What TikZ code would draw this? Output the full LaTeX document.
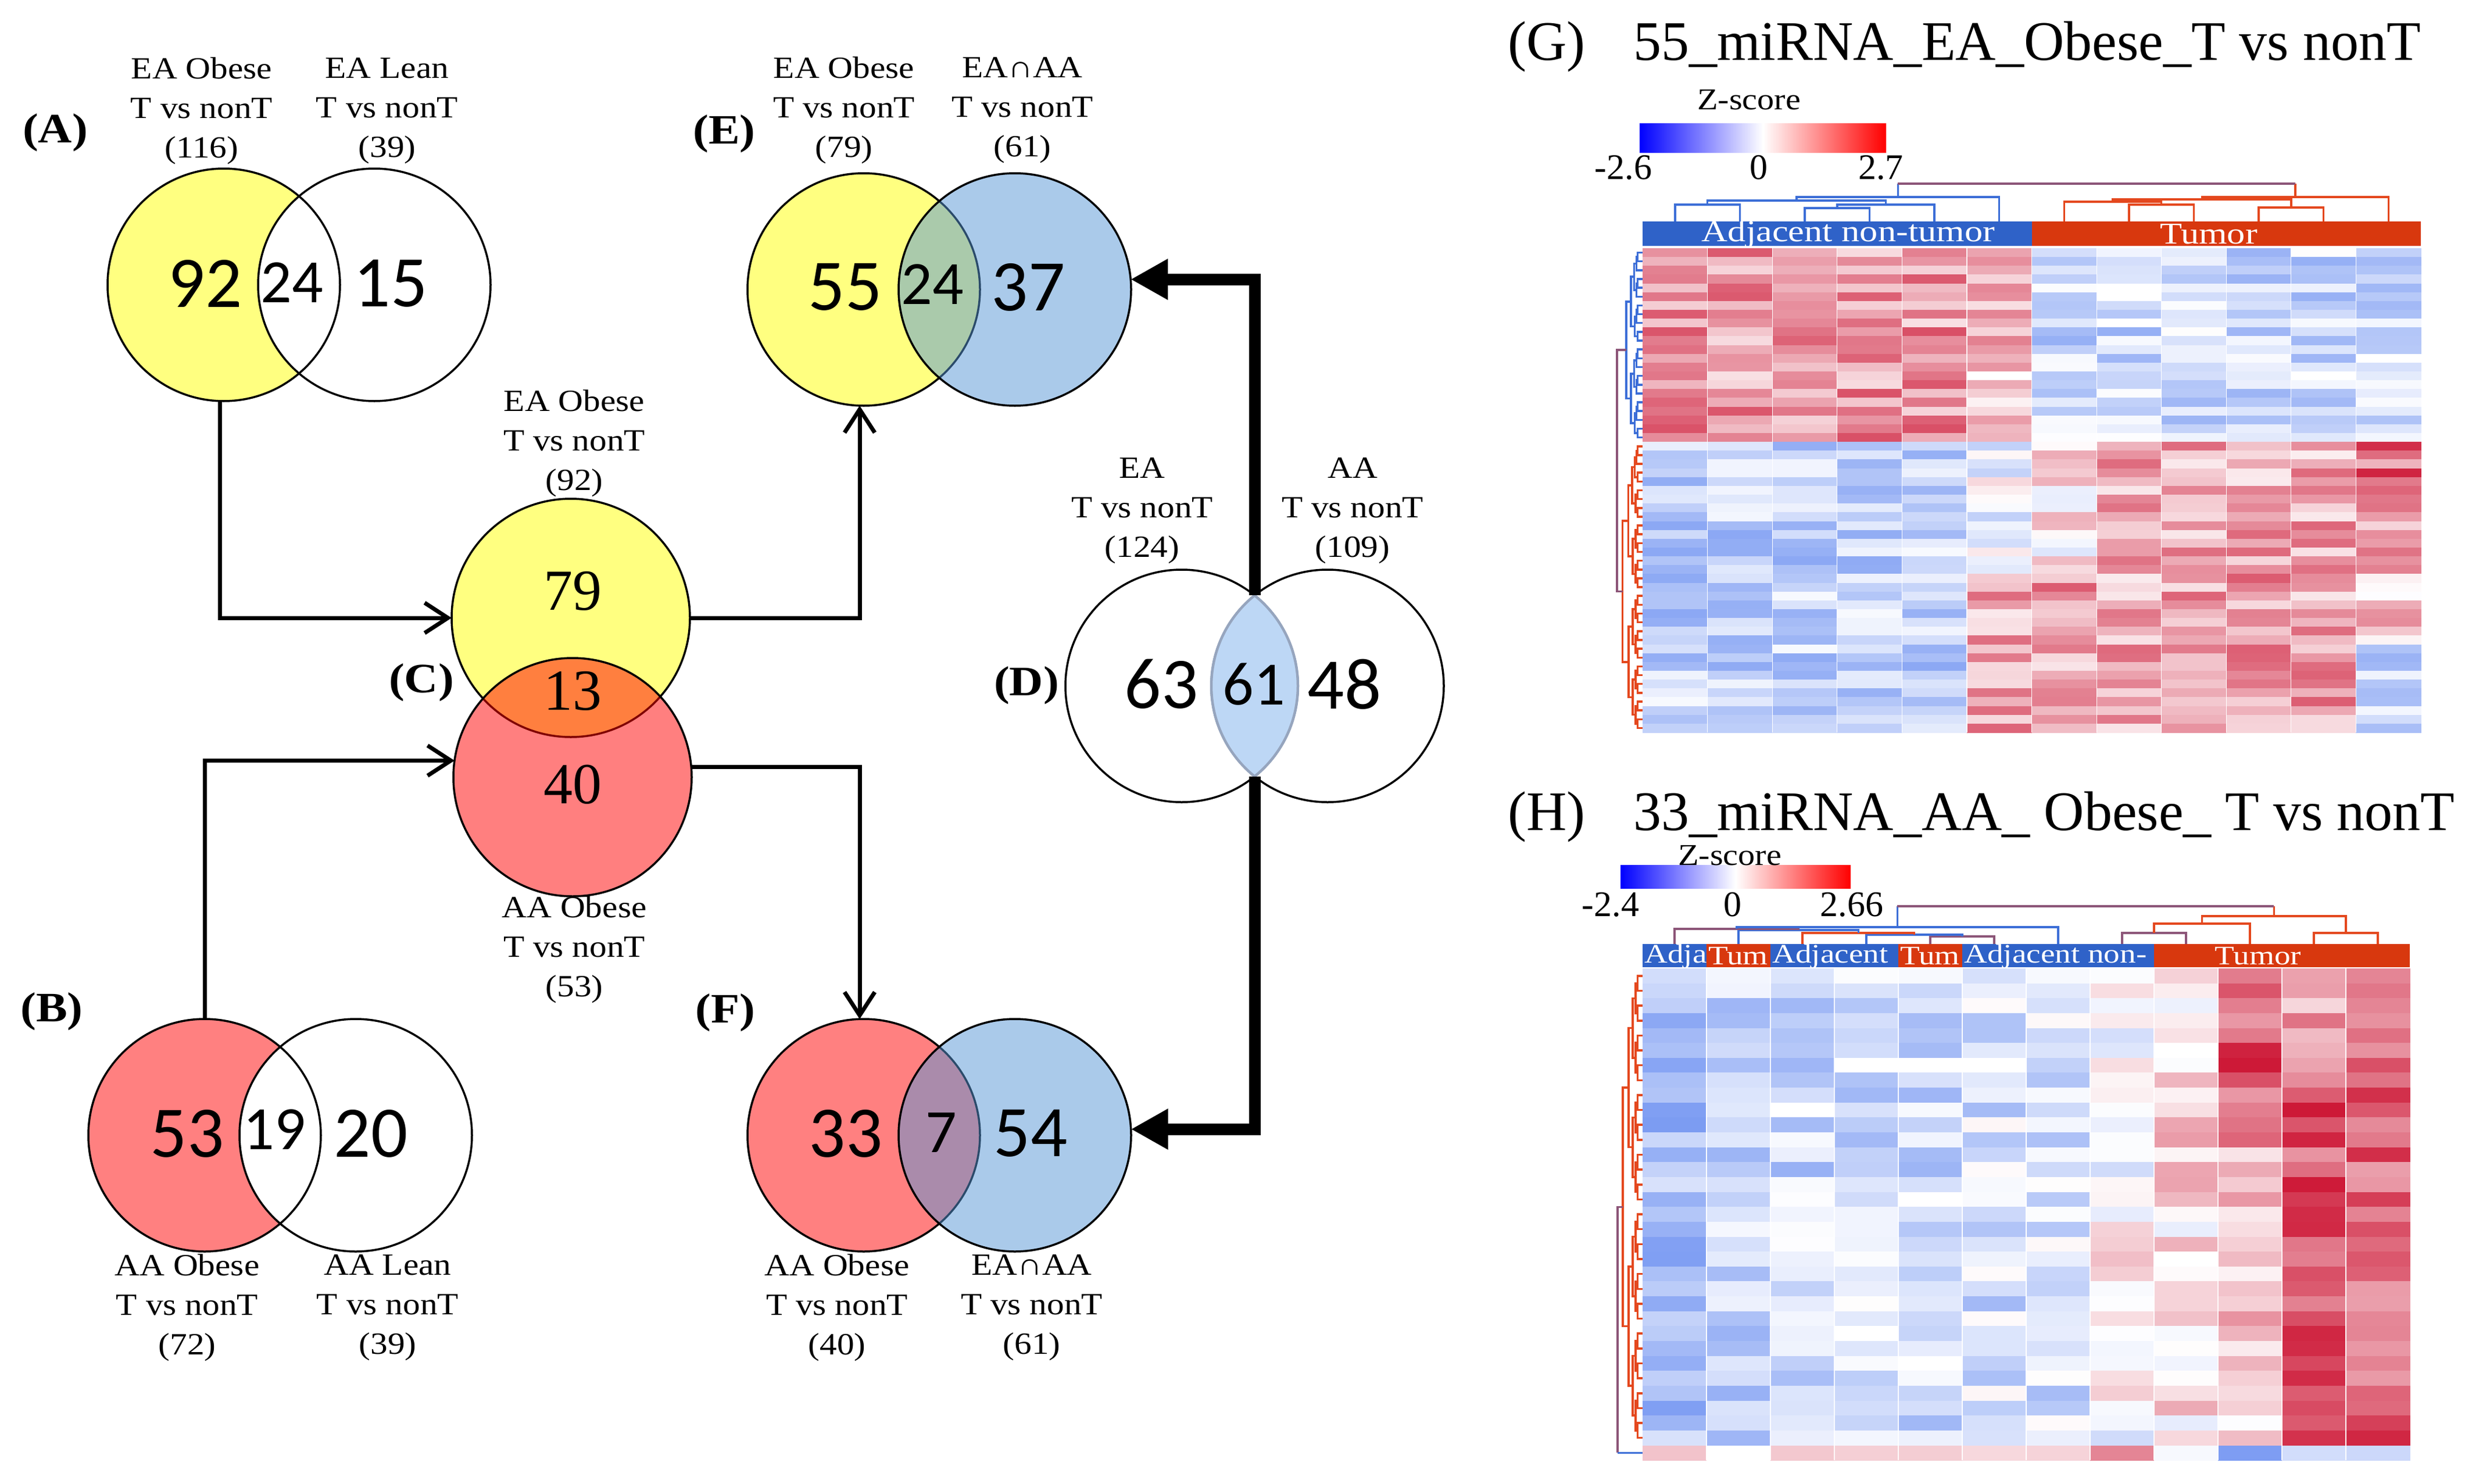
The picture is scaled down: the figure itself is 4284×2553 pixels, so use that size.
\documentclass[tikz,border=0pt]{standalone}
\usepackage{fontspec}
\setmainfont{Liberation Serif}
\newfontfamily\labfont[FakeStretch=1.12]{Liberation Serif}
\newfontfamily\hdrfont[FakeStretch=1.2]{Liberation Serif}
\newfontfamily\numfont{Carlito}
\usetikzlibrary{arrows.meta}
\definecolor{vyellow}{RGB}{255,255,128}
\definecolor{vred}{RGB}{255,128,128}
\definecolor{vblue}{RGB}{87,151,215}
\definecolor{lensblue}{RGB}{189,215,245}
\definecolor{lensedge}{RGB}{150,165,190}
\definecolor{hmblue}{RGB}{50,100,235}
\definecolor{hmred}{RGB}{205,25,55}
\definecolor{hdrblue}{RGB}{47,98,200}
\definecolor{hdrred}{RGB}{216,56,14}
\definecolor{dgblue}{RGB}{60,110,215}
\definecolor{dgred}{RGB}{228,72,30}
\definecolor{dgpurple}{RGB}{140,85,120}
\tikzset{
  vnode/.style={circle, inner sep=0pt, outer sep=0pt, minimum size=400pt},
  vnodeC/.style={vnode, minimum size=410pt},
  vline/.style={draw=black, line width=3.5pt},
  lab/.style={align=center, inner sep=0pt, font=\labfont\fontsize{53}{68}\selectfont},
  pnl/.style={inner sep=0pt, font=\labfont\bfseries\fontsize{72}{80}\selectfont},
  bignum/.style={inner sep=0pt, font=\numfont\fontsize{125}{130}\selectfont},
  midnum/.style={inner sep=0pt, font=\numfont\fontsize{106}{110}\selectfont},
  sernum/.style={inner sep=0pt, font=\fontsize{100}{110}\selectfont},
  thinarr/.style={line width=7pt, -{Straight Barb[length=40pt,width=52pt]}},
  thickarr/.style={line width=20pt, -{Triangle[length=64pt,width=66pt]}},
  ttl/.style={inner sep=0pt, font=\fontsize{96}{100}\selectfont},
  zs/.style={inner sep=0pt, font=\labfont\fontsize{52}{56}\selectfont},
  tick/.style={inner sep=0pt, font=\fontsize{62}{66}\selectfont},
  hdrG/.style={inner sep=0pt, text=white, font=\hdrfont\fontsize{52}{54}\selectfont},
  hdrH/.style={inner sep=0pt, text=white, font=\hdrfont\fontsize{46}{48}\selectfont},
  dgB/.style={draw=dgblue, line width=3.5pt},
  dgR/.style={draw=dgred, line width=3.5pt},
  dgP/.style={draw=dgpurple, line width=3.5pt},
}
% recursive row dendrogram: #1 first row, #2 last row, #3 top y, #4 row height, #5 style
\newcommand\dendro[5]{%
  \ifnum#1=#2\relax
    \pgfmathsetmacro\dgY{#3+#4*(#1+0.5)}%
    \xdef\dgRetY{\dgY}\xdef\dgRetX{\hmX}%
  \else
    \begingroup
    \pgfmathtruncatemacro\dgMid{floor((#1+#2)/2)}%
    \pgfmathtruncatemacro\dgMidp{\dgMid+1}%
    \edef\dgNext{\noexpand\dendro{#1}{\dgMid}{#3}{#4}{#5}}\dgNext
    \let\dgYa\dgRetY \let\dgXa\dgRetX
    \edef\dgNext{\noexpand\dendro{\dgMidp}{#2}{#3}{#4}{#5}}\dgNext
    \let\dgYb\dgRetY \let\dgXb\dgRetX
    \pgfmathsetmacro\dgXn{\hmX-6*sqrt(#2-#1+1)}%
    \draw[#5] (\dgXa,\dgYa) -- (\dgXn,\dgYa) -- (\dgXn,\dgYb) -- (\dgXb,\dgYb);
    \pgfmathsetmacro\dgYc{(\dgYa+\dgYb)/2}%
    \xdef\dgRetY{\dgYc}\xdef\dgRetX{\dgXn}%
    \endgroup
  \fi}
% column dendrogram link: style, x left, x right, y, y left child, y right child, y parent
\newcommand\clink[7]{%
  \draw[#1] (#2,#5) -- (#2,#4) -- (#3,#4) -- (#3,#6);
  \draw[#1] ({(#2+#3)/2},#4) -- ({(#2+#3)/2},#7);}
\begin{document}
\begin{tikzpicture}[x=1pt,y=-1pt]
\useasboundingbox (0,0) rectangle (4284,2553);
\fill[white] (0,0) rectangle (4284,2553);

% ================= A =================
\node[vnode] (aL) at (385,490) {};
\node[vnode] (aR) at (644,490) {};
\fill[vyellow] (aL.center) circle[radius=200pt];
\fill[white] (aR.center) circle[radius=200pt];
\draw[vline] (aL.center) circle[radius=200pt];
\draw[vline] (aR.center) circle[radius=200pt];
\node[bignum] (a1) at (353,488) {92};
\node[midnum] (a2) at (502,486) {24};
\node[bignum] (a3) at (672,488) {15};
\node[lab] (aLt) at (347,191) {EA Obese\\T vs nonT\\(116)};
\node[lab] (aRt) at (666,191) {EA Lean\\T vs nonT\\(39)};
\node[pnl] (pA) at (95,228) {(A)};

% ================= B =================
\node[vnode] (bL) at (352,1953) {};
\node[vnode] (bR) at (612,1953) {};
\fill[vred] (bL.center) circle[radius=200pt];
\fill[white] (bR.center) circle[radius=200pt];
\draw[vline] (bL.center) circle[radius=200pt];
\draw[vline] (bR.center) circle[radius=200pt];
\node[bignum] (b1) at (322,1950) {53};
\node[midnum] (b2) at (472,1943) {19};
\node[bignum] (b3) at (638,1950) {20};
\node[lab] (bLt) at (322,2250) {AA Obese\\T vs nonT\\(72)};
\node[lab] (bRt) at (667,2250) {AA Lean\\T vs nonT\\(39)};
\node[pnl] (pB) at (89,1740) {(B)};

% ================= C =================
\node[vnodeC] (cT) at (982,1063) {};
\node[vnodeC] (cB) at (985,1337) {};
\fill[vyellow] (cT.center) circle[radius=205pt];
\draw[vline] (cT.center) circle[radius=205pt];
\fill[red, fill opacity=0.5] (cB.center) circle[radius=205pt];
\draw[vline] (cB.center) circle[radius=205pt];
\node[sernum] (c1) at (985,1017) {79};
\node[sernum] (c2) at (985,1189) {13};
\node[sernum] (c3) at (985,1350) {40};
\node[lab] (cTt) at (988,763) {EA Obese\\T vs nonT\\(92)};
\node[lab] (cBt) at (988,1634) {AA Obese\\T vs nonT\\(53)};
\node[pnl] (pC) at (725,1174) {(C)};

% ================= D =================
\node[vnode] (dL) at (2033,1180) {};
\node[vnode] (dR) at (2284,1180) {};
\draw[vline] (dL.center) circle[radius=200pt];
\draw[vline] (dR.center) circle[radius=200pt];
\begin{scope}
  \clip (dL.center) circle[radius=200pt];
  \fill[lensblue] (dR.center) circle[radius=200pt];
  \draw[lensedge, line width=4.5pt] (dR.center) circle[radius=200pt];
\end{scope}
\begin{scope}
  \clip (dR.center) circle[radius=200pt];
  \draw[lensedge, line width=4.5pt] (dL.center) circle[radius=200pt];
\end{scope}
\coordinate (dTop) at (2158.5,1024.3);
\coordinate (dBot) at (2158.5,1335.7);
\node[bignum] (d1) at (1998,1177) {63};
\node[midnum] (d2) at (2157,1177) {61};
\node[bignum] (d3) at (2313,1177) {48};
\node[lab] (dLt) at (1965,879) {EA\\T vs nonT\\(124)};
\node[lab] (dRt) at (2327,879) {AA\\T vs nonT\\(109)};
\node[pnl] (pD) at (1766,1179) {(D)};

% ================= E =================
\node[vnode] (eL) at (1486,498) {};
\node[vnode] (eR) at (1746,498) {};
\fill[vyellow] (eL.center) circle[radius=200pt];
\draw[vline] (eL.center) circle[radius=200pt];
\fill[vblue, fill opacity=0.5] (eR.center) circle[radius=200pt];
\draw[vline] (eR.center) circle[radius=200pt];
\node[bignum] (e1) at (1454,494) {55};
\node[midnum] (e2) at (1604,489) {24};
\node[bignum] (e3) at (1769,494) {37};
\node[lab] (eLt) at (1452,190) {EA Obese\\T vs nonT\\(79)};
\node[lab] (eRt) at (1759,190) {EA∩AA\\T vs nonT\\(61)};
\node[pnl] (pE) at (1246,230) {(E)};

% ================= F =================
\node[vnode] (fL) at (1486,1953) {};
\node[vnode] (fR) at (1746,1953) {};
\fill[vred] (fL.center) circle[radius=200pt];
\draw[vline] (fL.center) circle[radius=200pt];
\fill[vblue, fill opacity=0.5] (fR.center) circle[radius=200pt];
\draw[vline] (fR.center) circle[radius=200pt];
\node[bignum] (f1) at (1455,1950) {33};
\node[midnum] (f2) at (1619,1948) {7};
\node[bignum] (f3) at (1773,1950) {54};
\node[lab] (fLt) at (1440,2250) {AA Obese\\T vs nonT\\(40)};
\node[lab] (fRt) at (1775,2250) {EA∩AA\\T vs nonT\\(61)};
\node[pnl] (pF) at (1248,1742) {(F)};

% ================= arrows =================
\draw[thinarr] (aL.-92) |- (cT.west);
\draw[thinarr] (bL.north) |- (cB.172);
\draw[thinarr] (cT.east) -| (eL.-92);
\draw[thinarr] (cB.5) -| (fL.92);
\draw[thickarr] (dTop) |- (eR.5);
\draw[thickarr] (dBot) |- (fR.3);

% ================= G heatmap =================
\node[ttl, anchor=base] (gLab) at (2661,104) {(G)};
\node[ttl, anchor=base west] (gTitle) at (2810,104) {55\_miRNA\_EA\_Obese\_T vs nonT};
\shade[left color=blue, right color=red, middle color=white] (2821,212) rectangle (3245,262);
\node[zs] (gZ) at (3009,172) {Z-score};
\node[tick, anchor=base] (gT1) at (2793,308) {-2.6};
\node[tick, anchor=base] (gT2) at (3026,308) {0};
\node[tick, anchor=base] (gT3) at (3236,308) {2.7};
\fill[hdrblue] (2826,381) rectangle (3496,423);
\fill[hdrred] (3496,381) rectangle (4165,423);
\node[hdrG] (gHa) at (3180,403) {Adjacent non-tumor};
\node[hdrG] (gHt) at (3800,403) {Tumor};
\pgfmathsetseed{2024}
\foreach \ri in {0,...,54}{
  \foreach \ci in {0,...,11}{
    \pgfmathsetmacro\hb{(\ri<22) ? ((\ci<5) ? 0.45 : ((\ci==5) ? 0.3 : -0.3)) : ((\ri<37) ? ((\ci<5) ? -0.35 : ((\ci==5) ? -0.1 : ((\ci==6) ? 0.05 : (((\ci==11) && (\ri<31)) ? 0.65 : 0.35)))) : ((\ci<5) ? -0.35 : ((\ci<11) ? 0.4 : ((\ri<45) ? 0.3 : -0.35))))}
    \pgfmathsetmacro\hv{max(-1,min(1,\hb+0.32*rand))}
    \pgfmathtruncatemacro\hpr{min(100,max(0,\hv)*100)}
    \pgfmathtruncatemacro\hpb{min(100,max(0,-\hv)*85)}
    \colorlet{hcb}{hmblue!\hpb!white}
    \fill[hmred!\hpr!hcb] ({2826+\ci*111.583},{427+\ri*15.145}) rectangle ++(112.2,15.7);
  }
}
\foreach \ci in {1,...,11}{\draw[white, line width=1.2pt] ({2826+\ci*111.583},427) -- ++(0,833);}
% column dendrogram G
\clink{dgB}{3105}{3216.6}{358}{381}{381}{352}
\clink{dgB}{3160.8}{3328.1}{352}{358}{381}{345}
\clink{dgB}{2881.8}{2993.4}{352}{381}{381}{345}
\clink{dgB}{2937.6}{3244.5}{345}{352}{352}{339}
\clink{dgB}{3091}{3439.7}{339}{345}{381}{316}
\clink{dgR}{3662.9}{3774.5}{352}{381}{381}{347}
\clink{dgR}{3551.3}{3718.7}{347}{381}{352}{343}
\clink{dgR}{3886.1}{3997.7}{357}{381}{381}{343}
\clink{dgR}{3635}{3941.9}{343}{347}{357}{339}
\clink{dgR}{3788.5}{4109.3}{339}{343}{381}{316}
\draw[dgP] (3265.4,316) -- (3948.9,316);
% row dendrogram G
\def\hmX{2826}
\dendro{0}{21}{427}{15.145}{dgB}
\let\gAy\dgRetY \let\gAx\dgRetX
\dendro{22}{54}{427}{15.145}{dgR}
\let\gBy\dgRetY \let\gBx\dgRetX
\draw[dgP] (\gAx,\gAy) -- (2782,\gAy) -- (2782,\gBy) -- (\gBx,\gBy);

% ================= H heatmap =================
\node[ttl, anchor=base] (hLab) at (2661,1428) {(H)};
\node[ttl, anchor=base west] (hTitle) at (2810,1428) {33\_miRNA\_AA\_ Obese\_ T vs nonT};
\shade[left color=blue, right color=red, middle color=white] (2788,1488) rectangle (3184,1528);
\node[zs] (hZ) at (2976,1472) {Z-score};
\node[tick, anchor=base] (hT1) at (2771,1576) {-2.4};
\node[tick, anchor=base] (hT2) at (2981,1576) {0};
\node[tick, anchor=base] (hT3) at (3186,1576) {2.66};
\fill[hdrblue] (2826,1624) rectangle (2936,1664);
\fill[hdrred] (2936,1624) rectangle (3046,1664);
\fill[hdrblue] (3046,1624) rectangle (3266,1664);
\fill[hdrred] (3266,1624) rectangle (3376,1664);
\fill[hdrblue] (3376,1624) rectangle (3706,1664);
\fill[hdrred] (3706,1624) rectangle (4146,1664);
\begin{scope}\clip (2826,1624) rectangle (2936,1664);
  \node[hdrH, anchor=west] (hH1) at (2829,1645) {Adja};\end{scope}
\begin{scope}\clip (2936,1624) rectangle (3046,1664);
  \node[hdrH, anchor=west] (hH2) at (2939,1645) {Tum};\end{scope}
\begin{scope}\clip (3046,1624) rectangle (3266,1664);
  \node[hdrH, anchor=west] (hH3) at (3049,1645) {Adjacent};\end{scope}
\begin{scope}\clip (3266,1624) rectangle (3376,1664);
  \node[hdrH, anchor=west] (hH4) at (3269,1645) {Tum};\end{scope}
\begin{scope}\clip (3376,1624) rectangle (3706,1664);
  \node[hdrH, anchor=west] (hH5) at (3379,1645) {Adjacent non-};\end{scope}
\node[hdrH] (hH6) at (3885,1645) {Tumor};
\foreach \ri in {0,...,32}{
  \foreach \ci in {0,...,11}{
    \pgfmathsetmacro\hbA{{-0.5,-0.35,-0.3,-0.25,-0.3,-0.25,-0.25,0.0,0.15,0.45,0.6,0.7}[\ci]}
    \pgfmathsetmacro\hbB{{0.3,0.02,0.2,0.2,0.2,0.15,0.15,0.5,-0.05,-0.7,-0.3,-0.35}[\ci]}
    \pgfmathsetmacro\hb{(\ri==32) ? \hbB : (\hbA + ((\ci==9) ? ((\ri<12) ? 0.3 : -0.25) : 0) + ((\ci==10) ? ((\ri<8) ? -0.25 : 0.15) : 0))}
    \pgfmathsetmacro\hv{max(-1,min(1,\hb+((\ri==32) ? 0.05 : 0.3)*rand))}
    \pgfmathtruncatemacro\hpr{min(100,max(0,\hv)*100)}
    \pgfmathtruncatemacro\hpb{min(100,max(0,-\hv)*85)}
    \colorlet{hcb}{hmblue!\hpb!white}
    \fill[hmred!\hpr!hcb] ({2826+\ci*110},{1666+\ri*25.64}) rectangle ++(110.6,26.2);
  }
}
\foreach \ci in {1,...,11}{\draw[white, line width=2pt] ({2826+\ci*110},1666) -- ++(0,846);}
% column dendrogram H
\clink{dgP}{3321}{3431}{1611}{1624}{1624}{1608}
\clink{dgB}{3211}{3376}{1608}{1624}{1611}{1605}
\clink{dgR}{3101}{3293.5}{1605}{1624}{1608}{1600}
\clink{dgB}{2991}{3197.25}{1600}{1624}{1605}{1598}
\clink{dgP}{2881}{3094.1}{1598}{1624}{1600}{1595}
\clink{dgB}{2987.6}{3541}{1595}{1598}{1624}{1559}
\clink{dgP}{3651}{3761}{1605}{1624}{1624}{1589}
\clink{dgR}{3706}{3871}{1589}{1605}{1624}{1576}
\clink{dgR}{3981}{4091}{1605}{1624}{1624}{1576}
\clink{dgR}{3788.5}{4036}{1576}{1589}{1605}{1559}
\draw[dgP] (3264.3,1559) -- (3912.25,1559);
% row dendrogram H
\dendro{0}{31}{1666}{25.64}{dgR}
\let\hAy\dgRetY \let\hAx\dgRetX
\draw[dgP] (\hAx,\hAy) -- (2783,\hAy) -- (2783,2499.3);
\draw[dgB] (2783,2499.3) -- (2826,2499.3);
\end{tikzpicture}
\end{document}
